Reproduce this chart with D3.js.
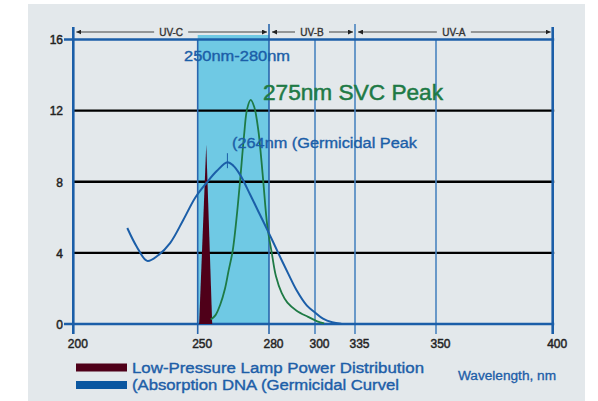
<!DOCTYPE html>
<html><head><meta charset="utf-8">
<script src="https://cdn.jsdelivr.net/npm/d3@7"></script>
<style>
html,body{margin:0;padding:0;background:#fff;}
svg{display:block;font-family:"Liberation Sans",Arial,sans-serif;}
</style></head>
<body>
<svg id="c" width="598" height="401"></svg>
<script>
// ---- data ----
const xTicks = [200, 250, 280, 300, 335, 350, 400];
const yTicks = [0, 4, 8, 12, 16];
const bands = [
  {name: "UV-C", from: 200, to: 280},
  {name: "UV-B", from: 280, to: 335},
  {name: "UV-A", from: 335, to: 400}
];
const highlight = {from: 250, to: 280};
// Germicidal (DNA absorption) curve: [nm, value]
const dnaCurve = [
  [221.7,5.4],[225.5,4.35],[229.7,3.55],[234,3.85],[238.9,4.55],[244.2,5.85],
  [249,7.1],[253.8,7.95],[258,8.6],[262.5,9.1],[265,8.9],[267.8,8.4],
  [272,7.3],[276,6.2],[280,5.1],[284,4.0],[288.3,2.85],[292,1.9],
  [296.4,1.05],[300,0.65],[307,0.3],[315,0.1],[323,0.02]
];
// 275nm SVC curve
const svcCurve = [
  [255.5,0.25],[257.5,0.5],[259.5,1.1],[261.5,2.0],[263,3.0],[264.7,4.1],
  [266.3,5.9],[267.8,8],[269.5,10.6],[270.8,12.1],[272.3,12.6],[273.8,12.2],
  [275.5,10.9],[276.6,9.5],[277.6,8],[279.3,5.5],[281.2,4],[283,2.7],
  [285.5,1.75],[288,1.2],[292,0.75],[297,0.4],[302,0.15],[308,0.03]
];
// Low-pressure lamp spike
const lampSpike = [[250.6,0],[253.6,10.1],[256.1,0]];
const dnaPeak = [262.5, 9.1];
const legendItems = [
  {label: "Low-Pressure Lamp Power Distribution", color: "#4f0019"},
  {label: "(Absorption DNA (Germicidal Curvel", color: "#0b57a0"}
];

// ---- scales ----
const x = d3.scaleLinear().domain(xTicks).range([73.3, 197.7, 269, 315, 355, 436, 552.7]);
const y = d3.scaleLinear().domain([0, 16]).range([324, 39.5]);

const svg = d3.select("#c");
const BLUE = "#1b5ea8", GREEN = "#1e7a45";

svg.append("rect").attr("x", 28).attr("y", 4).attr("width", 557).attr("height", 397).attr("fill", "#e3e8eb");

// highlight band
svg.append("rect")
  .attr("x", x(highlight.from)).attr("y", 35)
  .attr("width", x(highlight.to) - x(highlight.from))
  .attr("height", y(0) - 35)
  .attr("fill", "#6fc9e4");

// black grid lines
svg.selectAll(".hg").data(yTicks.filter(d => d > 0 && d < 16)).enter().append("line")
  .attr("x1", x(200)).attr("x2", x(400) + 1.5)
  .attr("y1", d => y(d)).attr("y2", d => y(d))
  .attr("stroke", "#000").attr("stroke-width", 2.4);

// inner vertical lines
svg.selectAll(".vg").data(xTicks.filter(d => d > 200 && d < 400)).enter().append("line")
  .attr("x1", d => x(d)).attr("x2", d => x(d))
  .attr("y1", d => (d === 280 || d === 335) ? 24 : y(16))
  .attr("y2", 334)
  .attr("stroke", d => (d === 250 || d === 280) ? "#2a66ad" : "#4a84c0")
  .attr("stroke-width", 1.6);

// outer vertical lines
svg.selectAll(".vo").data([200, 400]).enter().append("line")
  .attr("x1", d => x(d)).attr("x2", d => x(d))
  .attr("y1", 27).attr("y2", 334)
  .attr("stroke", BLUE).attr("stroke-width", 2.6);

// blue horizontal 0 and 16
svg.selectAll(".hb").data([0, 16]).enter().append("line")
  .attr("x1", 64).attr("x2", x(400) + 1.5)
  .attr("y1", d => y(d)).attr("y2", d => y(d))
  .attr("stroke", BLUE).attr("stroke-width", 2.6);

// lamp spike
svg.append("path")
  .attr("d", d3.line().x(d => x(d[0])).y(d => y(d[1]))(lampSpike) + "Z")
  .attr("fill", "#4f0019");

const line = d3.line().x(d => x(d[0])).y(d => y(d[1])).curve(d3.curveCatmullRom.alpha(0.5));
svg.append("path").attr("d", line(svcCurve)).attr("fill", "none").attr("stroke", GREEN).attr("stroke-width", 1.8);
svg.append("path").attr("d", line(dnaCurve)).attr("fill", "none").attr("stroke", BLUE).attr("stroke-width", 2);
// peak marker
svg.append("line")
  .attr("x1", x(dnaPeak[0])).attr("x2", x(dnaPeak[0]))
  .attr("y1", y(dnaPeak[1]) - 9).attr("y2", y(dnaPeak[1]) + 6)
  .attr("stroke", BLUE).attr("stroke-width", 1);

// arrow markers
const defs = svg.append("defs");
defs.append("marker").attr("id", "ae").attr("viewBox", "0 0 10 10").attr("refX", 10).attr("refY", 5)
  .attr("markerWidth", 5).attr("markerHeight", 5).attr("markerUnits", "userSpaceOnUse").attr("orient", "auto")
  .append("path").attr("d", "M0,0L10,5L0,10Z").attr("fill", "#222");
defs.append("marker").attr("id", "as").attr("viewBox", "0 0 10 10").attr("refX", 0).attr("refY", 5)
  .attr("markerWidth", 5).attr("markerHeight", 5).attr("markerUnits", "userSpaceOnUse").attr("orient", "auto")
  .append("path").attr("d", "M10,0L0,5L10,10Z").attr("fill", "#222");

const bg = svg.selectAll(".band").data(bands).enter().append("g");
bg.append("line")
  .attr("x1", d => x(d.from) + 3).attr("x2", d => x(d.to) - 2)
  .attr("y1", 32).attr("y2", 32)
  .attr("stroke", "#444").attr("stroke-width", 1.1)
  .attr("marker-start", "url(#as)").attr("marker-end", "url(#ae)");
bg.append("rect")
  .attr("x", d => (x(d.from) + x(d.to)) / 2 - 17).attr("y", 26)
  .attr("width", 34).attr("height", 12).attr("fill", "#e3e8eb");
bg.append("text")
  .attr("x", d => (x(d.from) + x(d.to)) / 2).attr("y", 35.5)
  .attr("text-anchor", "middle").attr("font-size", 10)
  .attr("fill", "#333").attr("stroke", "#333").attr("stroke-width", 0.35).text(d => d.name);

// axes labels
const xa = svg.append("g").attr("transform", `translate(4,${y(0) + 12})`)
  .call(d3.axisBottom(x).tickValues(xTicks).tickSize(0).tickFormat(d3.format("d")));
xa.select(".domain").remove();
xa.selectAll("text").attr("font-size", 12).attr("fill", "#222").attr("stroke", "#222").attr("stroke-width", 0.45)
  .attr("font-family", "Liberation Sans, Arial, sans-serif");

const ya = svg.append("g").attr("transform", `translate(64,0.5)`)
  .call(d3.axisLeft(y).tickValues(yTicks).tickSize(0).tickPadding(1));
ya.select(".domain").remove();
ya.selectAll("text").attr("font-size", 12).attr("fill", "#222").attr("stroke", "#222").attr("stroke-width", 0.45)
  .attr("font-family", "Liberation Sans, Arial, sans-serif");

// annotations
svg.append("text").attr("x", 184).attr("y", 61).attr("font-size", 15.5)
  .attr("fill", BLUE).attr("stroke", BLUE).attr("stroke-width", 0.4)
  .attr("textLength", 106).attr("lengthAdjust", "spacingAndGlyphs").text("250nm-280nm");
svg.append("text").attr("x", 263).attr("y", 100).attr("font-size", 22.5)
  .attr("fill", GREEN).attr("stroke", GREEN).attr("stroke-width", 0.5)
  .attr("textLength", 180).attr("lengthAdjust", "spacingAndGlyphs").text("275nm SVC Peak");
svg.append("text").attr("x", 232).attr("y", 147.5).attr("font-size", 14)
  .attr("fill", BLUE).attr("stroke", BLUE).attr("stroke-width", 0.35)
  .attr("textLength", 185).attr("lengthAdjust", "spacingAndGlyphs").text("(264nm (Germicidal Peak");

// legend
const lg = svg.selectAll(".lg").data(legendItems).enter().append("g")
  .attr("transform", (d, i) => `translate(76,${363.5 + i * 17.5})`);
lg.append("rect").attr("width", 51).attr("height", 8).attr("fill", d => d.color);
lg.append("text").attr("x", 56).attr("y", 9).attr("font-size", 15.5)
  .attr("fill", "#1d5ea8").attr("stroke", "#1d5ea8").attr("stroke-width", 0.4)
  .attr("textLength", (d, i) => i === 0 ? 292 : 267).attr("lengthAdjust", "spacingAndGlyphs")
  .text(d => d.label);

svg.append("text").attr("x", 458).attr("y", 380).attr("font-size", 12.5)
  .attr("fill", "#1d5ea8").attr("stroke", "#1d5ea8").attr("stroke-width", 0.3)
  .attr("textLength", 98).attr("lengthAdjust", "spacingAndGlyphs").text("Wavelength, nm");
</script>
</body></html>
